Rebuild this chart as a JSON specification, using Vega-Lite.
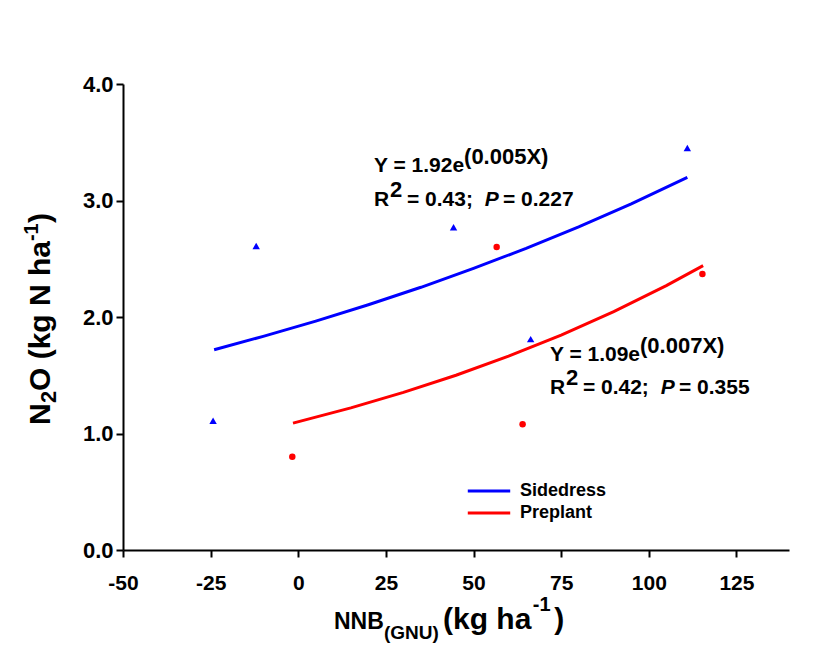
{
  "$schema": "https://vega.github.io/schema/vega-lite/v6.json",
  "width": 666,
  "height": 466,
  "autosize": "none",
  "padding": {"left": 123, "top": 84, "right": 27, "bottom": 102},
  "background": "white",
  "config": {"view": {"stroke": null}, "font": "Liberation Sans"},
  "datasets": {
    "sidedress": [
      {"x": -24.3, "y": 1.11}, {"x": -12, "y": 2.61}, {"x": 44.3, "y": 2.77}, {"x": 66.3, "y": 1.81}, {"x": 111, "y": 3.45}
    ],
    "preplant": [
      {"x": -1.7, "y": 0.80}, {"x": 56.6, "y": 2.60}, {"x": 64, "y": 1.08}, {"x": 115.3, "y": 2.37}
    ],
    "curves": [
      {"series": "Sidedress", "x": -24, "y": 1.719},
      {"series": "Sidedress", "x": -10, "y": 1.834},
      {"series": "Sidedress", "x": 5, "y": 1.965},
      {"series": "Sidedress", "x": 20, "y": 2.105},
      {"series": "Sidedress", "x": 35, "y": 2.255},
      {"series": "Sidedress", "x": 50, "y": 2.417},
      {"series": "Sidedress", "x": 65, "y": 2.589},
      {"series": "Sidedress", "x": 80, "y": 2.774},
      {"series": "Sidedress", "x": 95, "y": 2.972},
      {"series": "Sidedress", "x": 111, "y": 3.199},
      {"series": "Preplant", "x": -1.5, "y": 1.089},
      {"series": "Preplant", "x": 15, "y": 1.220},
      {"series": "Preplant", "x": 30, "y": 1.353},
      {"series": "Preplant", "x": 45, "y": 1.500},
      {"series": "Preplant", "x": 60, "y": 1.664},
      {"series": "Preplant", "x": 75, "y": 1.845},
      {"series": "Preplant", "x": 90, "y": 2.047},
      {"series": "Preplant", "x": 105, "y": 2.270},
      {"series": "Preplant", "x": 115.5, "y": 2.441}
    ],
    "eqMain": [
      {"x": 21.6, "y": 3.245, "text": "Y = 1.92e"},
      {"x": 21.6, "y": 2.953, "text": "R"},
      {"x": 31.0, "y": 2.953, "text": "= 0.43;"},
      {"x": 58.4, "y": 2.953, "text": "= 0.227"},
      {"x": 71.8, "y": 1.622, "text": "Y = 1.09e"},
      {"x": 71.8, "y": 1.339, "text": "R"},
      {"x": 81.2, "y": 1.339, "text": "= 0.42;"},
      {"x": 108.6, "y": 1.339, "text": "= 0.355"}
    ],
    "eqSup": [
      {"x": 47.3, "y": 3.313, "text": "(0.005X)"},
      {"x": 26.2, "y": 3.030, "text": "2"},
      {"x": 97.5, "y": 1.691, "text": "(0.007X)"},
      {"x": 76.4, "y": 1.416, "text": "2"}
    ],
    "eqItal": [
      {"x": 53.2, "y": 2.953, "text": "P"},
      {"x": 103.4, "y": 1.339, "text": "P"}
    ],
    "xTitleNNB": [
      {"x": 10.19, "y": -0.678, "text": "NNB"}
    ],
    "xTitleMain": [
      {"x": 41.3, "y": -0.678, "text": "(kg ha"},
      {"x": 73.0, "y": -0.678, "text": ")"}
    ],
    "xTitleSub": [
      {"x": 24.46, "y": -0.764, "text": "(GNU)"}
    ],
    "xTitleSup": [
      {"x": 66.9, "y": -0.524, "text": "-1"}
    ],
    "yTitleMain": [
      {"x": -70.83, "y": 1.073, "text": "N"},
      {"x": -70.83, "y": 1.365, "text": "O (kg N ha"},
      {"x": -70.83, "y": 2.807, "text": ")"}
    ],
    "yTitleSub": [
      {"x": -69.11, "y": 1.262, "text": "2"}
    ],
    "yTitleSup": [
      {"x": -74.25, "y": 2.652, "text": "-1"}
    ]
  },
  "encoding": {
    "x": {
      "field": "x", "type": "quantitative",
      "scale": {"domain": [-50, 140], "nice": false, "zero": false},
      "axis": {
        "title": null, "values": [-50, -25, 0, 25, 50, 75, 100, 125],
        "labelExpr": "replace(datum.label, '\u2212', '-')",
        "grid": false, "domainColor": "black", "domainWidth": 2,
        "tickColor": "black", "tickWidth": 2, "tickSize": 7,
        "labelFont": "Liberation Sans", "labelFontWeight": "bold", "labelFontSize": 21,
        "labelColor": "black", "labelPadding": 15, "labelFlush": false
      }
    },
    "y": {
      "field": "y", "type": "quantitative",
      "scale": {"domain": [0, 4], "nice": false},
      "axis": {
        "title": null, "values": [0, 1, 2, 3, 4], "format": ".1f",
        "grid": false, "domainColor": "black", "domainWidth": 2,
        "tickColor": "black", "tickWidth": 2, "tickSize": 7,
        "labelFont": "Liberation Sans", "labelFontWeight": "bold", "labelFontSize": 22,
        "labelColor": "black", "labelPadding": 3
      }
    }
  },
  "layer": [
    {
      "data": {"name": "curves"},
      "mark": {"type": "line", "strokeWidth": 3},
      "encoding": {
        "color": {
          "field": "series", "type": "nominal",
          "scale": {"domain": ["Sidedress", "Preplant"], "range": ["#0000ff", "#ff0000"]},
          "legend": {
            "title": null, "orient": "none", "legendX": 343, "legendY": 396,
            "symbolType": "stroke", "symbolSize": 1800, "symbolStrokeWidth": 3,
            "clipHeight": 22, "rowPadding": 0,
            "labelFont": "Liberation Sans", "labelFontWeight": "bold", "labelFontSize": 18,
            "labelColor": "black", "labelOffset": 8
          }
        }
      }
    },
    {
      "data": {"name": "sidedress"},
      "mark": {"type": "point", "shape": "triangle-up", "filled": true, "color": "#0000ff", "size": 55, "opacity": 1}
    },
    {
      "data": {"name": "preplant"},
      "mark": {"type": "point", "shape": "circle", "filled": true, "color": "#ff0000", "size": 42, "opacity": 1}
    },
    {
      "data": {"name": "eqMain"},
      "mark": {"type": "text", "align": "left", "baseline": "alphabetic", "font": "Liberation Sans", "fontWeight": "bold", "fontSize": 21, "color": "black"},
      "encoding": {"text": {"field": "text"}}
    },
    {
      "data": {"name": "eqSup"},
      "mark": {"type": "text", "align": "left", "baseline": "alphabetic", "font": "Liberation Sans", "fontWeight": "bold", "fontSize": 22, "color": "black"},
      "encoding": {"text": {"field": "text"}}
    },
    {
      "data": {"name": "eqItal"},
      "mark": {"type": "text", "align": "left", "baseline": "alphabetic", "font": "Liberation Sans", "fontWeight": "bold", "fontStyle": "italic", "fontSize": 21, "color": "black"},
      "encoding": {"text": {"field": "text"}}
    },
    {
      "data": {"name": "xTitleNNB"},
      "mark": {"type": "text", "align": "left", "baseline": "alphabetic", "font": "Liberation Sans", "fontWeight": "bold", "fontSize": 23, "color": "black"},
      "encoding": {"text": {"field": "text"}}
    },
    {
      "data": {"name": "xTitleMain"},
      "mark": {"type": "text", "align": "left", "baseline": "alphabetic", "font": "Liberation Sans", "fontWeight": "bold", "fontSize": 30, "color": "black"},
      "encoding": {"text": {"field": "text"}}
    },
    {
      "data": {"name": "xTitleSub"},
      "mark": {"type": "text", "align": "left", "baseline": "alphabetic", "font": "Liberation Sans", "fontWeight": "bold", "fontSize": 19, "color": "black"},
      "encoding": {"text": {"field": "text"}}
    },
    {
      "data": {"name": "xTitleSup"},
      "mark": {"type": "text", "align": "left", "baseline": "alphabetic", "font": "Liberation Sans", "fontWeight": "bold", "fontSize": 20, "color": "black"},
      "encoding": {"text": {"field": "text"}}
    },
    {
      "data": {"name": "yTitleMain"},
      "mark": {"type": "text", "align": "left", "baseline": "alphabetic", "angle": 270, "font": "Liberation Sans", "fontWeight": "bold", "fontSize": 30, "color": "black"},
      "encoding": {"text": {"field": "text"}}
    },
    {
      "data": {"name": "yTitleSub"},
      "mark": {"type": "text", "align": "left", "baseline": "alphabetic", "angle": 270, "font": "Liberation Sans", "fontWeight": "bold", "fontSize": 22, "color": "black"},
      "encoding": {"text": {"field": "text"}}
    },
    {
      "data": {"name": "yTitleSup"},
      "mark": {"type": "text", "align": "left", "baseline": "alphabetic", "angle": 270, "font": "Liberation Sans", "fontWeight": "bold", "fontSize": 20, "color": "black"},
      "encoding": {"text": {"field": "text"}}
    }
  ]
}
